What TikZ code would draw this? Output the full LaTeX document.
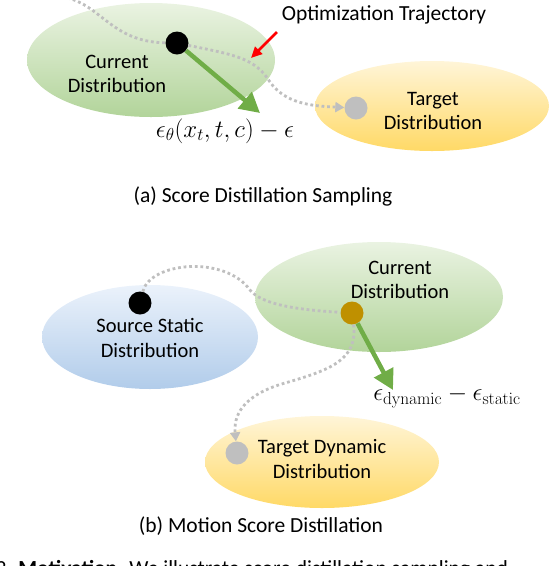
\documentclass[tikz,border=0pt]{standalone}
\usepackage[no-math]{fontspec}
\setmainfont{Carlito}
\usepackage{xcolor}
\usetikzlibrary{arrows.meta}
\definecolor{gtop}{HTML}{EAF3E2}
\definecolor{gbot}{HTML}{B2D49A}
\definecolor{ytop}{HTML}{FFF5D8}
\definecolor{ybot}{HTML}{FFD966}
\definecolor{btop}{HTML}{EBF2FB}
\definecolor{bbot}{HTML}{B1CCEA}
\definecolor{arrgreen}{HTML}{70AD47}
\definecolor{traj}{HTML}{BFBFBF}
\definecolor{gold}{HTML}{BF9000}
\tikzset{
	dist/.style={font=\fontsize{20.5}{24.5}\selectfont,align=center},
	capt/.style={font=\fontsize{21.5}{26}\selectfont},
	mathlbl/.style={font=\fontsize{25}{30}\selectfont},
	ptdot/.style={circle,minimum size=23pt,inner sep=0pt},
	traject/.style={traj,line width=2.8pt,dash pattern=on 2.8pt off 2.8pt,-{Triangle[length=9pt,width=10pt]}},
	grad/.style={arrgreen,line width=4.5pt,-{Triangle[length=20pt,width=21pt]}},
	greenfill/.style={top color=gtop,bottom color=gbot},
	yellowfill/.style={top color=ytop,bottom color=ybot},
	bluefill/.style={top color=btop,bottom color=bbot}
}
\begin{document}
\begin{tikzpicture}[x=1pt,y=-1pt]
	\useasboundingbox(0,0)rectangle(556,566);
	\clip(0,0)rectangle(556,566);
	\path[greenfill](151,60)ellipse[x radius=124,y radius=57];
	\path[yellowfill](432,106)ellipse[x radius=117,y radius=45];
	\node[dist](curAtxt)at(117,74){Current\\Distribution};
	\node[dist](tgtAtxt)at(433,111){Target\\Distribution};
	\node[ptdot,fill=black](dotA)at(177,43){};
	\node[ptdot,fill=traj](tgtA)at(356,108){};
	\coordinate(startA)at(62,-3);
	\draw[traject,-](startA)..controls(100,2)and(110,42)..(dotA);
	\draw[traject](dotA)..controls(235,55)and(255,58)..(270,82)..controls(285,103)and(310,106)..(tgtA);
	\coordinate(gradA)at(260,113);
	\draw[grad](dotA)--(gradA);
	\node[mathlbl](epsA)at(225,131){$\epsilon_\theta(x_t,t,c)-\epsilon$};
	\node[capt](optA)at(384,15){Optimization Trajectory};
	\coordinate(ptrA)at(277,32);
	\coordinate(ptrB)at(251,58);
	\draw[red,line width=2.6pt,-{Triangle[length=11pt,width=10pt]}](ptrA)--(ptrB);
	\node[capt](capA)at(263,196){(a) Score Distillation Sampling};
	\path[bluefill](150,337)ellipse[x radius=108,y radius=52];
	\path[greenfill](379,297)ellipse[x radius=124,y radius=55];
	\path[yellowfill](322,462)ellipse[x radius=117,y radius=46];
	\node[dist](srcBtxt)at(150,338){Source Static\\Distribution};
	\node[dist](curBtxt)at(400,280){Current\\Distribution};
	\node[dist](tgtBtxt)at(322,459){Target Dynamic\\Distribution};
	\node[ptdot,fill=black](srcB)at(140,303){};
	\node[ptdot,fill=gold](curB)at(352,313){};
	\node[ptdot,fill=traj](tgtB)at(237,453){};
	\draw[traject,-](srcB)..controls(150,262)and(225,255)..(250,290)..controls(262,305)and(300,310)..(curB);
	\draw[traject](curB)..controls(358,360)and(330,370)..(285,383)..controls(250,393)and(233,410)..(tgtB);
	\coordinate(gradB)at(393,390);
	\draw[grad](curB)--(gradB);
	\node[mathlbl](epsB)at(447,397){$\epsilon_{\mathrm{dynamic}}-\epsilon_{\mathrm{static}}$};
	\node[capt](capB)at(261,526){(b) Motion Score Distillation};
	\node[capt,anchor=base west](figcap)at(-67,575){Figure 2. \textbf{Motivation.} We illustrate score distillation sampling and};
\end{tikzpicture}
\end{document}
